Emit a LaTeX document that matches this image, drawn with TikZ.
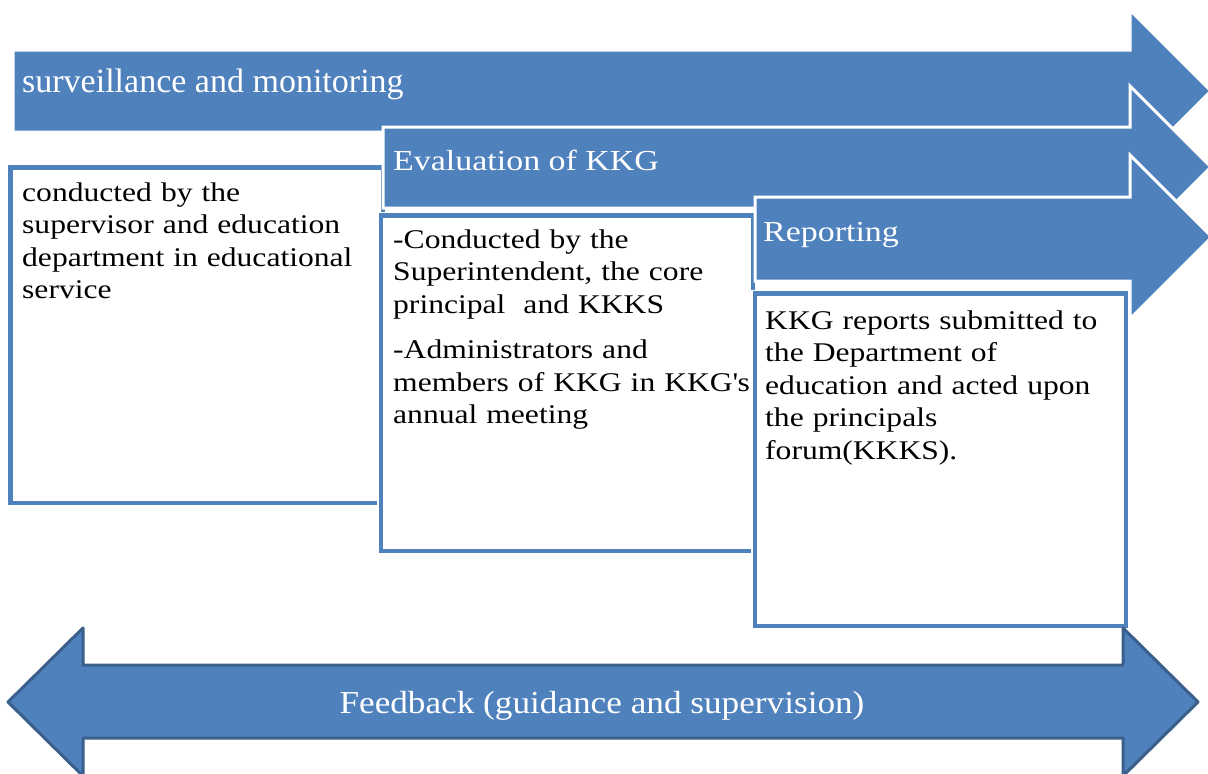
\documentclass[tikz,border=0pt]{standalone}
\usepackage{fontspec}
\setmainfont{Liberation Serif}
\newfontfamily\widefont{Liberation Serif}[FakeStretch=1.17]
\newfontfamily\feedfont{Liberation Serif}[FakeStretch=1.1]
\definecolor{accent}{HTML}{4F81BD}
\definecolor{accentdark}{HTML}{3A5F8B}
\begin{document}
\begin{tikzpicture}[x=1pt,y=-1pt,
  bigarrow/.style={fill=accent, draw=white, line width=3pt, line join=miter},
  boxframe/.style={fill=white, draw=accent, line width=4.5pt, preaction={draw=white, line width=8pt}},
  headtext/.style={text=white, font=\widefont\fontsize{29}{32}\selectfont, anchor=base west, inner sep=0pt},
  bodytext/.style={text=black, font=\widefont\fontsize{27}{32.5}\selectfont, anchor=base west, inner sep=0pt, text width=370pt, align=left},
  feedarrow/.style={fill=accent, draw=accentdark, line width=3pt, line join=round},
]
\useasboundingbox (0,0) rectangle (1208,774);
\clip (0,0) rectangle (1208,774);
% arrow 1
\path[bigarrow] (13,50) -- (1130,50) -- (1130,10) -- (1211,91) -- (1130,172) -- (1130,132) -- (13,132) -- cycle;
\node[headtext, font=\rmfamily\fontsize{34}{36}\selectfont] (h1) at (22,92) {surveillance and monitoring};
% box 1
\path[boxframe] (10.5,167.5) rectangle (383,503);
\node[bodytext] (b1) at (22,201) {conducted by the\\supervisor and education\\department in educational\\service};
% arrow 2
\path[bigarrow] (383,127) -- (1130,127) -- (1130,86) -- (1211,167) -- (1130,248) -- (1130,208) -- (383,208) -- cycle;
\node[headtext] (h2) at (393,170) {Evaluation of KKG};
% box 2
\path[boxframe] (381,215.5) rectangle (753,551);
\node[bodytext] (b2) at (393,248) {-Conducted by the\\Superintendent, the core\\principal\ \ and KKKS\\[13pt]-Administrators and\\members of KKG in KKG\textquotesingle s\\annual meeting};
% arrow 3
\path[bigarrow] (755,197) -- (1130,197) -- (1130,155) -- (1212,237) -- (1130,319) -- (1130,281) -- (755,281) -- cycle;
\node[headtext] (h3) at (763,241) {Reporting};
% box 3
\path[boxframe] (755,293.5) rectangle (1126,626);
\node[bodytext] (b3) at (765,329) {KKG reports submitted to\\the Department of\\education and acted upon\\the principals\\forum(KKKS).};
% feedback arrow
\path[feedarrow] (8,702) -- (83,628) -- (83,665) -- (1123,665) -- (1123,628) -- (1198,702) -- (1123,776) -- (1123,738) -- (83,738) -- (83,776) -- cycle;
\node[headtext, anchor=base, font=\feedfont\fontsize{32}{34}\selectfont] (fb) at (602,713) {Feedback (guidance and supervision)};
\end{tikzpicture}
\end{document}
